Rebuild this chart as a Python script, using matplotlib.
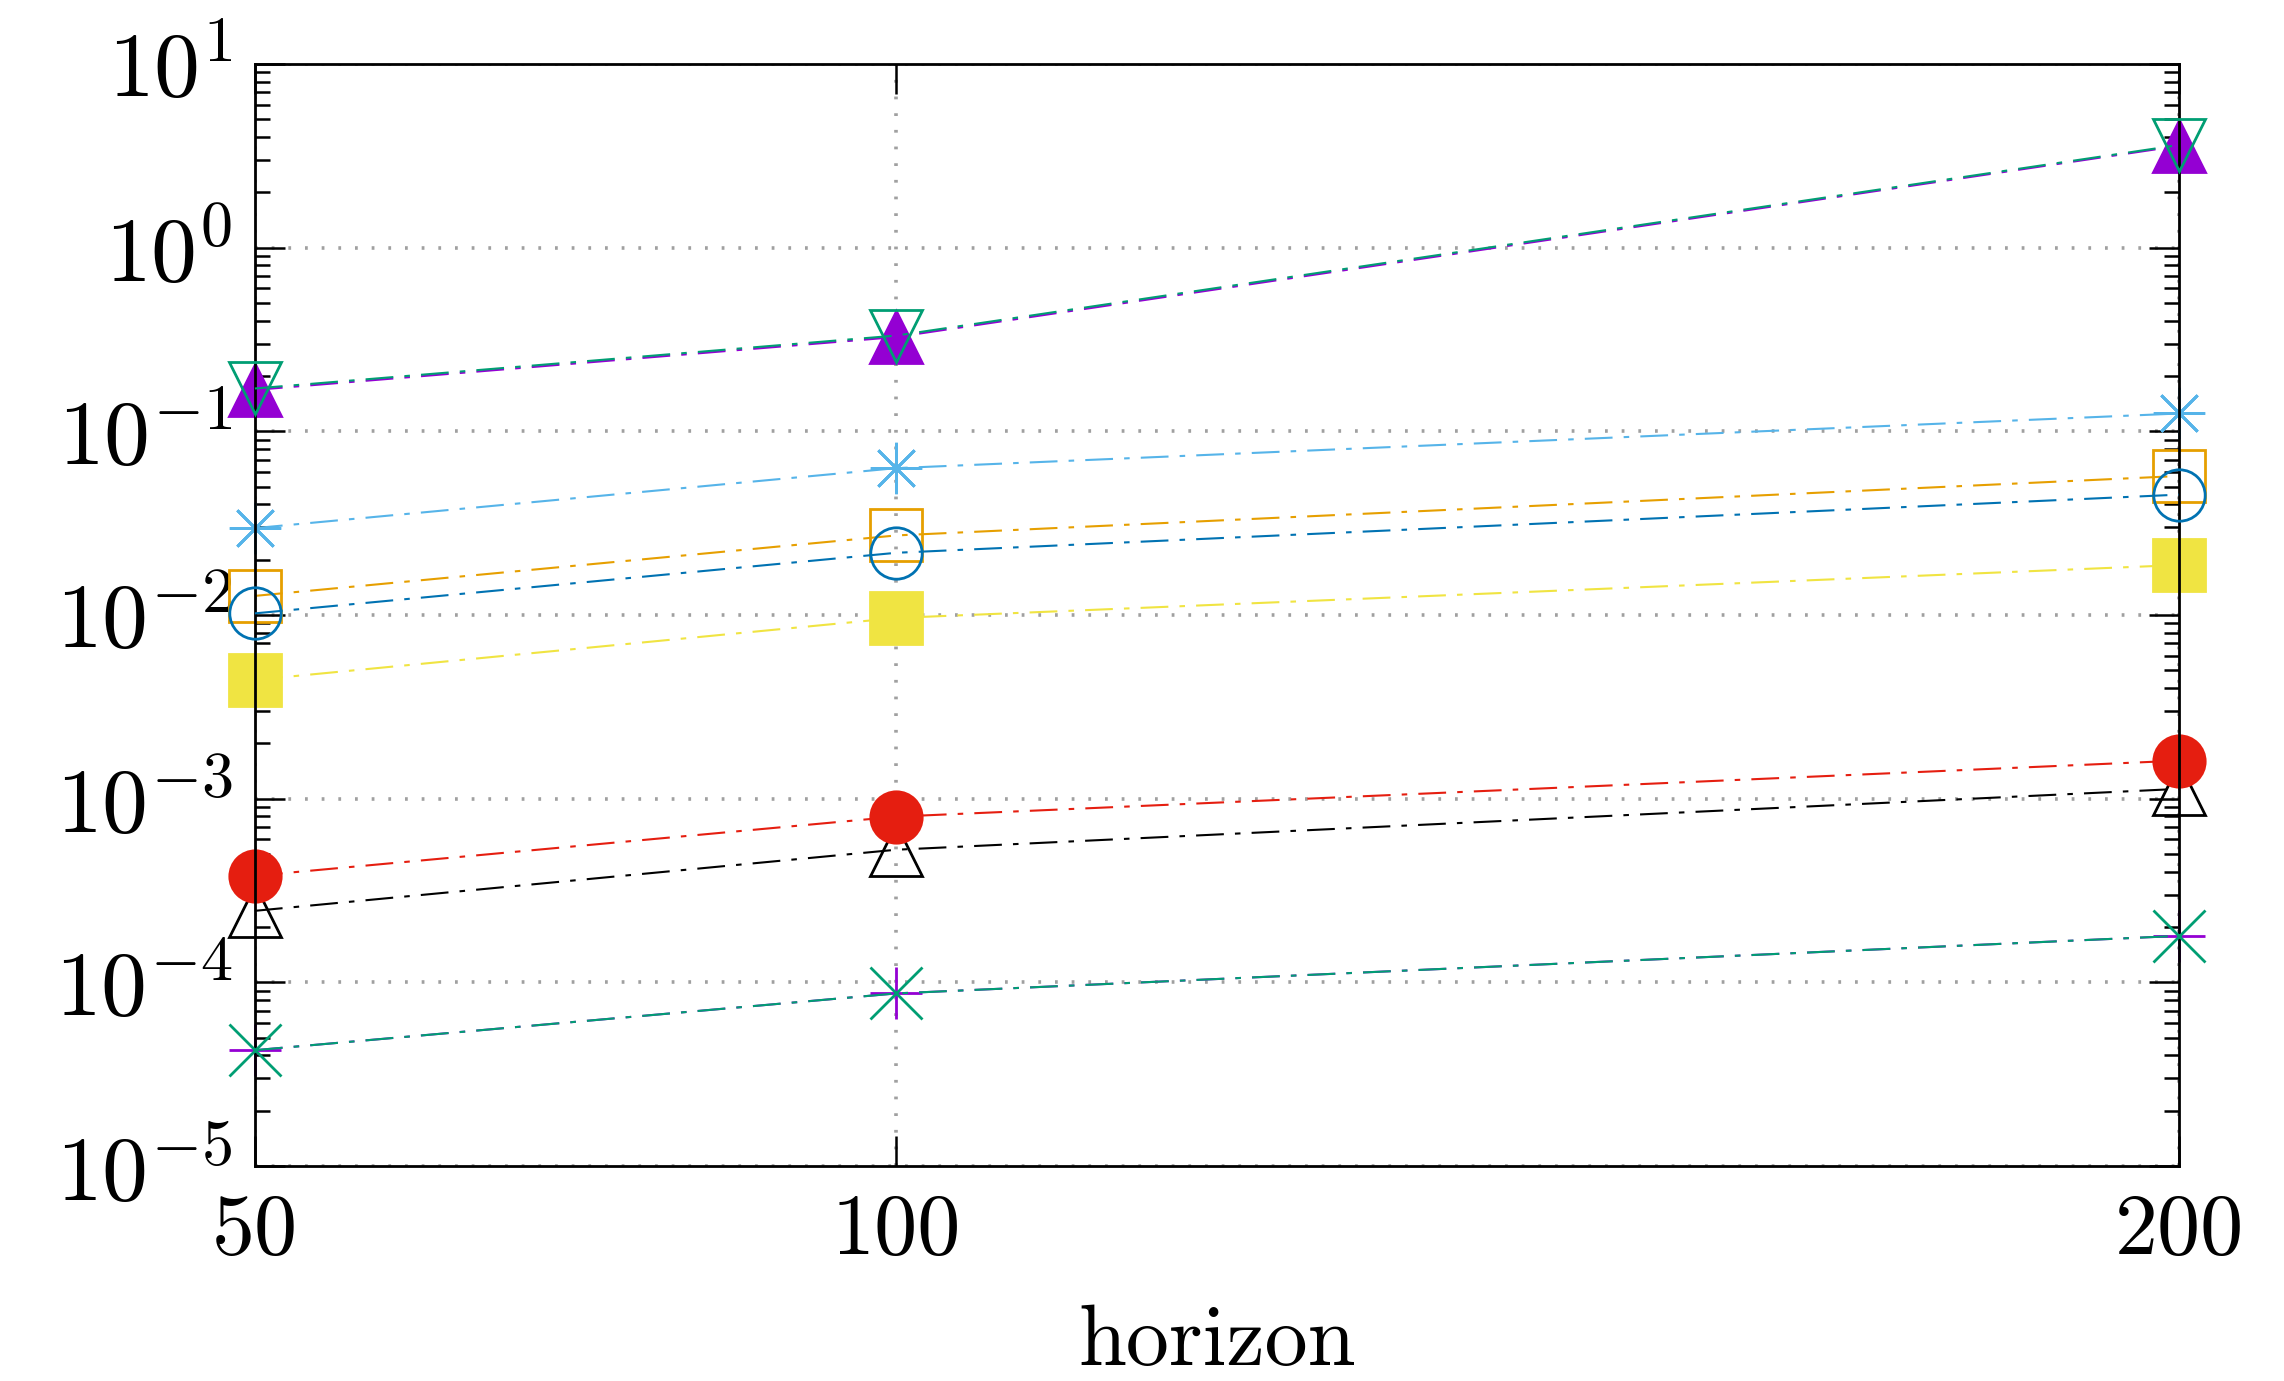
import matplotlib
matplotlib.use("Agg")
import matplotlib.pyplot as plt
from matplotlib.ticker import LogLocator, NullFormatter, FixedLocator, LogFormatterSciNotation

plt.rcParams['font.family'] = ['cmr10', 'DejaVu Serif']
plt.rcParams['mathtext.fontset'] = 'cm'
plt.rcParams['axes.formatter.use_mathtext'] = True
plt.rcParams['lines.scale_dashes'] = False

horizon = [50, 100, 200]
xtick_labels = ['50', '100', '200']
ytick_values = [1e-5, 1e-4, 1e-3, 1e-2, 1e-1, 1e0, 1e1]
ytick_labels = [r'$10^{-5}$', r'$10^{-4}$', r'$10^{-3}$', r'$10^{-2}$',
                r'$10^{-1}$', r'$10^{0}$', r'$10^{1}$']

s_purple_tri = [0.168, 0.326, 3.58]
s_green_vtri = [0.171, 0.332, 3.62]
s_lightblue = [0.0297, 0.063, 0.125]
s_orange = [0.0127, 0.0271, 0.0571]
s_blue = [0.0102, 0.0218, 0.0452]
s_yellow = [0.00443, 0.00963, 0.0187]
s_red = [0.00038, 0.000798, 0.00161]
s_black = [0.000245, 0.000527, 0.00113]
s_purple_plus = [4.27e-5, 8.7e-5, 1.79e-4]
s_green_x = [4.27e-5, 8.7e-5, 1.79e-4]

fig = plt.figure(figsize=(11.42, 6.905), dpi=200)
ax = fig.add_axes([0.1116, 0.1557, 0.8424, 0.798])

dash = (0, (10, 4, 2, 4))
lw = 0.75
ms = 18.5
mew = 1.0

def plot(y, color, marker, filled, z=2, size=ms):
    ax.plot(horizon, y, color=color, linestyle=dash, linewidth=lw,
            marker=marker, markersize=size, markeredgewidth=mew,
            markerfacecolor=color if filled else 'none',
            markeredgecolor=color, zorder=z, clip_on=False)

plot(s_purple_plus, '#9400D3', '+', False, z=2)
plot(s_green_x, '#009E73', 'x', False, z=3)
plot(s_black, 'black', '^', False)
plot(s_red, '#E51E10', 'o', True)
plot(s_yellow, '#F0E442', 's', True)
plot(s_blue, '#0072B2', 'o', False, z=3)
plot(s_orange, '#E69F00', 's', False)
plot(s_lightblue, '#56B4E9', (8, 2, 0), False)
plot(s_purple_tri, '#9400D3', '^', True, z=2)
plot(s_green_vtri, '#009E73', 'v', False, z=3)

ax.set_yscale('log')
ax.set_ylim(1e-5, 1e1)
ax.set_xlim(50, 200)
ax.xaxis.set_major_locator(FixedLocator(horizon))
ax.set_xticklabels(xtick_labels)
ax.yaxis.set_major_locator(FixedLocator(ytick_values))
ax.set_yticklabels(ytick_labels)
ax.yaxis.set_minor_locator(LogLocator(base=10, subs=range(2, 10), numticks=100))
ax.yaxis.set_minor_formatter(NullFormatter())

ax.grid(True, which='major', color='#A0A0A0', linestyle=(0, (1, 5)), linewidth=1.3)
ax.set_axisbelow(True)

ax.tick_params(which='both', direction='in', top=True, right=True,
               width=0.9, pad=8)
ax.tick_params(axis='x', labelsize=31, pad=10)
ax.tick_params(axis='y', labelsize=33, pad=8)
ax.tick_params(which='major', length=10.8)
ax.tick_params(which='minor', length=5.4)
for s in ax.spines.values():
    s.set_linewidth(1.0)

ax.set_xlabel('horizon', fontsize=31, labelpad=12)

fig.savefig('out.png', dpi=200)
